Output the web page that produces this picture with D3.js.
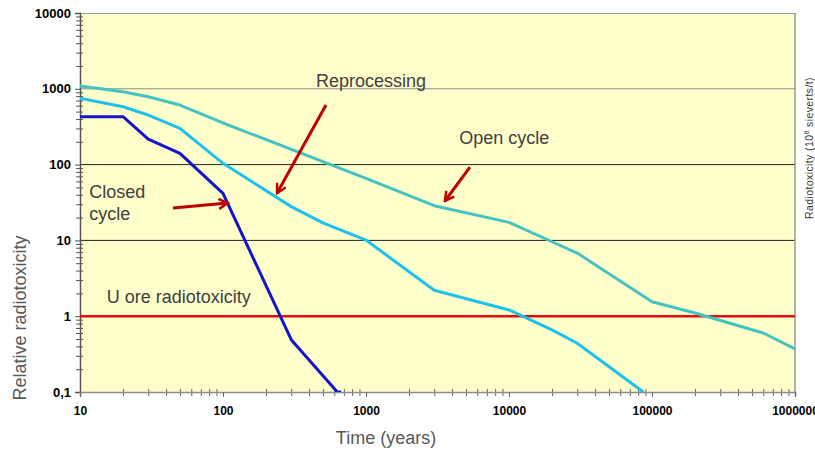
<!DOCTYPE html>
<html>
<head>
<meta charset="utf-8">
<script src="https://cdn.jsdelivr.net/npm/d3@7"></script>
<style>
  body { margin: 0; background: #fff; }
  svg { display: block; font-family: "Liberation Sans", Arial, sans-serif; }
</style>
</head>
<body>
<div id="chart"></div>
<script>
// Data (time in years, relative radiotoxicity)
const openTime   = [10, 20, 30, 50, 100, 1000, 3000, 10000, 20000, 30000, 100000, 200000, 600000, 1000000];
const openVal    = [1090, 916, 787, 611, 354, 66, 28.7, 17.3, 9.6, 6.8, 1.55, 1.1, 0.6, 0.37];

const reproTime  = [10, 20, 30, 50, 100, 300, 500, 1000, 3000, 10000, 20000, 30000, 87000];
const reproVal   = [750, 580, 451, 301, 104, 27.9, 17, 10.1, 2.2, 1.21, 0.66, 0.44, 0.1];

const closedTime = [10, 20, 30, 50, 100, 300, 630, 670];
const closedVal  = [429, 429, 217, 141, 41.8, 0.49, 0.1, 0.1];

const uOreLevel  = 1;

const xTicks = [10, 100, 1000, 10000, 100000, 1000000];
const yTicks = [0.1, 1, 10, 100, 1000, 10000];
const yTickLabels = ["0,1", "1", "10", "100", "1000", "10000"];
const gridLevels = [10, 100, 1000];

// annotations: [time, value] positions
const labels = [
  { text: "Reprocessing", t: 447, v: 1066 },
  { text: "Open cycle", t: 4490, v: 187 },
  { text: "Closed", t: 11.6, v: 35.9 },
  { text: "cycle", t: 11.6, v: 18.6 },
  { text: "U ore radiotoxicity", t: 15.4, v: 1.48 }
];
const arrows = [
  { from: [525, 611], to: [239, 42.2] },
  { from: [44.7, 26.7], to: [108, 31.1] },
  { from: [5330, 92.9], to: [3565, 33.1] }
];

const width = 815, height = 451;
const margin = { top: 13, right: 20, bottom: 59, left: 80 };
const innerWidth  = width - margin.left - margin.right;
const innerHeight = height - margin.top - margin.bottom;

const svgRoot = d3.select("#chart").append("svg")
  .attr("width", width).attr("height", height);

const svg = svgRoot.append("g")
  .attr("transform", `translate(${margin.left},${margin.top})`);

const x = d3.scaleLog().domain([10, 1000000]).range([0, innerWidth]);
const y = d3.scaleLog().domain([0.1, 10000]).range([innerHeight, 0]);

// plot background
svg.append("rect")
  .attr("width", innerWidth).attr("height", innerHeight)
  .attr("fill", "#ffffcc");

const defs = svg.append("defs");
defs.append("clipPath").attr("id", "clip")
  .append("rect").attr("width", innerWidth).attr("height", innerHeight);

// horizontal gridlines
svg.selectAll(".grid")
  .data(gridLevels)
  .join("line")
    .attr("x1", 0).attr("x2", innerWidth)
    .attr("y1", d => y(d)).attr("y2", d => y(d))
    .attr("stroke", d => d === 1000 ? "#8c8c8c" : "#222")
    .attr("stroke-width", 1);

// top and right border
svg.append("line").attr("x1", 0).attr("x2", innerWidth).attr("y1", 0.5).attr("y2", 0.5)
  .attr("stroke", "#999");
svg.append("line").attr("x1", innerWidth).attr("x2", innerWidth).attr("y1", 0).attr("y2", innerHeight)
  .attr("stroke", "#999").attr("stroke-width", 1.5);

// minor tick values
const minors = (lo, hi) => {
  const out = [];
  for (let d = lo; d < hi; d *= 10) for (let k = 2; k <= 9; k++) out.push(d * k);
  return out;
};

// Y axis
svg.append("g").call(d3.axisLeft(y).tickValues(minors(0.1, 10000)).tickSize(4).tickFormat(""))
  .call(g => g.select(".domain").remove())
  .selectAll("line").attr("stroke", "#555");
svg.append("g").call(d3.axisRight(y).tickValues(minors(0.1, 10000)).tickSize(3).tickFormat(""))
  .call(g => g.select(".domain").remove())
  .selectAll("line").attr("stroke", "#555");
const yAxis = svg.append("g")
  .call(d3.axisLeft(y).tickValues(yTicks).tickSize(5).tickPadding(4)
    .tickFormat((d, i) => yTickLabels[i]));
yAxis.select(".domain").attr("stroke", "#555").attr("stroke-width", 1.5);
yAxis.selectAll("line").attr("stroke", "#555");
yAxis.selectAll("text")
  .style("font-size", "13px").style("font-weight", "bold")
  .attr("fill", "#000");

// X axis
const xg = svg.append("g").attr("transform", `translate(0,${innerHeight})`);
xg.append("g").call(d3.axisBottom(x).tickValues(minors(10, 1000000)).tickSize(4).tickFormat(""))
  .call(g => g.select(".domain").remove())
  .selectAll("line").attr("stroke", "#666");
xg.append("g").call(d3.axisTop(x).tickValues(minors(10, 1000000)).tickSize(3).tickFormat(""))
  .call(g => g.select(".domain").remove())
  .selectAll("line").attr("stroke", "#666");
const xAxis = xg.append("g")
  .call(d3.axisBottom(x).tickValues(xTicks).tickSize(5).tickPadding(9)
    .tickFormat(d3.format("d")));
xAxis.select(".domain").attr("stroke", "#8c8c8c").attr("stroke-width", 1.5);
xAxis.selectAll("line").attr("stroke", "#666");
xAxis.selectAll("text")
  .style("font-size", "12px").style("font-weight", "bold").attr("fill", "#000");

// axis titles
svgRoot.append("text")
  .attr("transform", `translate(26,${margin.top + 305}) rotate(-90)`)
  .attr("text-anchor", "middle")
  .style("font-size", "18px").attr("fill", "#595959")
  .text("Relative radiotoxicity");

svgRoot.append("text")
  .attr("x", margin.left + 306).attr("y", 444)
  .attr("text-anchor", "middle")
  .style("font-size", "18px").attr("fill", "#595959")
  .text("Time (years)");

const rt = svgRoot.append("text")
  .attr("transform", `translate(813,148) rotate(-90)`)
  .attr("text-anchor", "middle")
  .style("font-size", "10.5px").style("letter-spacing", "0.4px").attr("fill", "#3a3a3a");
rt.append("tspan").text("Radiotoxicity (10");
rt.append("tspan").attr("dy", -4).style("font-size", "7px").text("8");
rt.append("tspan").attr("dy", 4).text(" sieverts/t)");

// series
const line = d3.line().x(d => x(d[0])).y(d => y(d[1]));
const plot = svg.append("g").attr("clip-path", "url(#clip)");

plot.append("line")
  .attr("x1", 0).attr("x2", innerWidth)
  .attr("y1", y(uOreLevel)).attr("y2", y(uOreLevel))
  .attr("stroke", "#e01010").attr("stroke-width", 2.5);

const series = [
  { t: openTime, v: openVal, color: "#45c3c3" },
  { t: reproTime, v: reproVal, color: "#1ec0ec" },
  { t: closedTime, v: closedVal, color: "#1414cc" }
];
series.forEach(s => {
  plot.append("path")
    .datum(s.t.map((t, i) => [t, s.v[i]]))
    .attr("fill", "none")
    .attr("stroke", s.color)
    .attr("stroke-width", 3)
    .attr("stroke-linejoin", "round")
    .attr("d", line);
});

// annotation text
svg.selectAll(".lbl")
  .data(labels)
  .join("text")
    .attr("x", d => x(d.t))
    .attr("y", d => y(d.v))
    .style("font-size", "18px")
    .attr("fill", "#404040")
    .text(d => d.text);

// arrows
defs.append("marker")
  .attr("id", "head")
  .attr("viewBox", "0 0 12 12")
  .attr("refX", 10).attr("refY", 6)
  .attr("markerWidth", 12).attr("markerHeight", 12)
  .attr("markerUnits", "userSpaceOnUse")
  .attr("orient", "auto")
  .append("path")
    .attr("d", "M1,1 L10,6 L1,11")
    .attr("fill", "none")
    .attr("stroke", "#c00000")
    .attr("stroke-width", 2.5);

svg.selectAll(".arrow")
  .data(arrows)
  .join("line")
    .attr("x1", d => x(d.from[0])).attr("y1", d => y(d.from[1]))
    .attr("x2", d => x(d.to[0])).attr("y2", d => y(d.to[1]))
    .attr("stroke", "#c00000")
    .attr("stroke-width", 3)
    .attr("marker-end", "url(#head)");
</script>
</body>
</html>
